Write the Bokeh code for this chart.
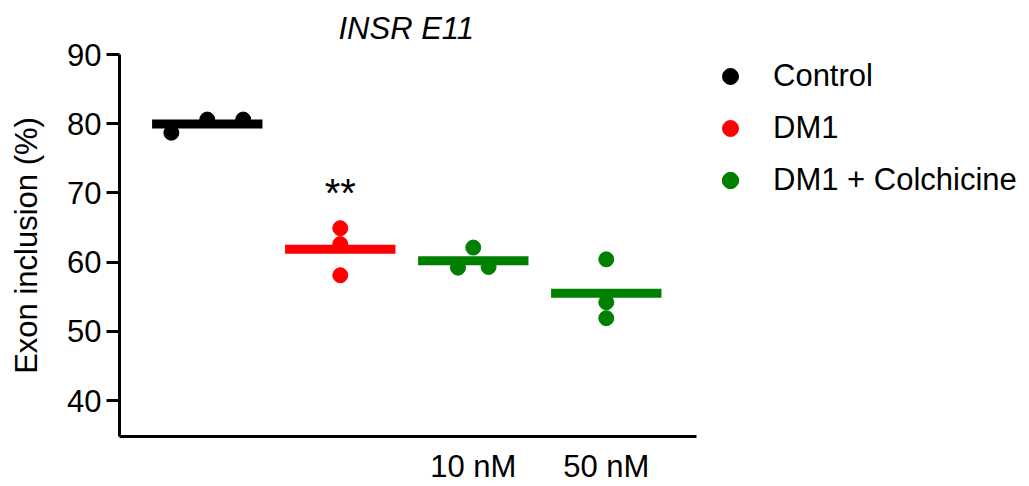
import numpy as np
from bokeh.plotting import figure
from bokeh.models import Range1d, FixedTicker, Legend, LegendItem
from bokeh.core.properties import value
from bokeh.embed import file_html
from bokeh.resources import INLINE

FONT = "Liberation Sans"
FS = "31px"

# ---- data ----
group_labels = ["Control", "DM1", "10 nM", "50 nM"]
control_vals = [78.7, 80.6, 80.6]
dm1_vals = [64.9, 62.6, 58.1]
colch10_vals = [62.1, 59.2, 59.3]
colch50_vals = [60.4, 54.2, 51.9]
y_ticks = [40, 50, 60, 70, 80, 90]
legend_labels = ["Control", "DM1", "DM1 + Colchicine"]
signif_label = "**"

# horizontal jitter of the points within each group
control_jit = [-0.27, 0.0, 0.27]
dm1_jit = [0.0, 0.0, 0.0]
colch10_jit = [0.0, -0.115, 0.115]
colch50_jit = [0.0, 0.0, 0.0]

pos = [1, 2, 3, 4]
X0, X1 = 0.34, 4.68          # visible extent of the x axis
XEND = X0 + 910 / 133.0      # frame continues to the right (room for legend)

p = figure(width=1029, height=486, output_backend="svg", toolbar_location=None,
           x_range=Range1d(X0, XEND), y_range=Range1d(34.8, 90),
           min_border_left=119, min_border_right=0, min_border_top=54, min_border_bottom=49)
p.outline_line_color = None
p.grid.visible = False
p.background_fill_color = "white"
p.border_fill_color = "white"

p.title.text = "INSR E11"
p.title.text_font = FONT
p.title.text_font_size = FS
p.title.text_font_style = "italic"
p.title.align = "left"
p.title.offset = 219
p.title.standoff = 17
p.title.text_color = "black"

groups = [(control_vals, control_jit, "black"), (dm1_vals, dm1_jit, "red"),
          (colch10_vals, colch10_jit, "green"), (colch50_vals, colch50_jit, "green")]

renderers = []
for i, (vals, jit, col) in enumerate(groups):
    xs = [pos[i] + j for j in jit]
    r = p.scatter(xs, vals, size=15, color=col)
    renderers.append(r)
    m = float(np.mean(vals))
    p.segment(x0=[pos[i] - 0.415], x1=[pos[i] + 0.415], y0=[m], y1=[m],
              line_width=9, line_color=col, line_cap="butt")

p.text(x=[pos[1]], y=[70.0], text=[signif_label], text_font=value(FONT),
       text_font_size="40px", text_align="center", text_baseline="alphabetic", text_color="black")

# axes
ya = p.yaxis[0]
ya.ticker = FixedTicker(ticks=y_ticks)
ya.axis_label = "Exon inclusion (%)"
ya.axis_label_text_font = FONT
ya.axis_label_text_font_size = FS
ya.axis_label_text_font_style = "normal"
ya.axis_label_text_color = "black"
ya.axis_label_standoff = 20
ya.major_label_text_font = FONT
ya.major_label_text_font_size = FS
ya.major_label_text_color = "black"
ya.major_label_standoff = 5
ya.axis_line_width = 3
ya.axis_line_color = "black"
ya.major_tick_line_width = 3
ya.major_tick_line_color = "black"
ya.major_tick_out = 13
ya.major_tick_in = 0
ya.minor_tick_line_color = None

xa = p.xaxis[0]
xa.ticker = FixedTicker(ticks=[3, 4])
xa.bounds = (X0, X1)
xa.major_label_overrides = {3: group_labels[2], 4: group_labels[3]}
xa.major_label_text_font = FONT
xa.major_label_text_font_size = FS
xa.major_label_text_color = "black"
xa.major_label_standoff = 12
xa.axis_line_width = 3
xa.axis_line_color = "black"
xa.major_tick_line_color = None
xa.major_tick_out = 0
xa.major_tick_in = 0
xa.minor_tick_line_color = None

legend = Legend(items=[LegendItem(label=legend_labels[0], renderers=[renderers[0]]),
                       LegendItem(label=legend_labels[1], renderers=[renderers[1]]),
                       LegendItem(label=legend_labels[2], renderers=[renderers[2], renderers[3]])],
                location=(591, 236), orientation="vertical")
legend.border_line_color = None
legend.background_fill_alpha = 0
legend.label_text_font = FONT
legend.label_text_font_size = FS
legend.label_text_color = "black"
legend.glyph_width = 40
legend.glyph_height = 40
legend.label_height = 40
legend.label_standoff = 23
legend.spacing = 12
legend.padding = 0
legend.margin = 0
legend.label_text_baseline = "middle"
p.add_layout(legend, "center")

open("out.html", "w").write(file_html(p, INLINE))
